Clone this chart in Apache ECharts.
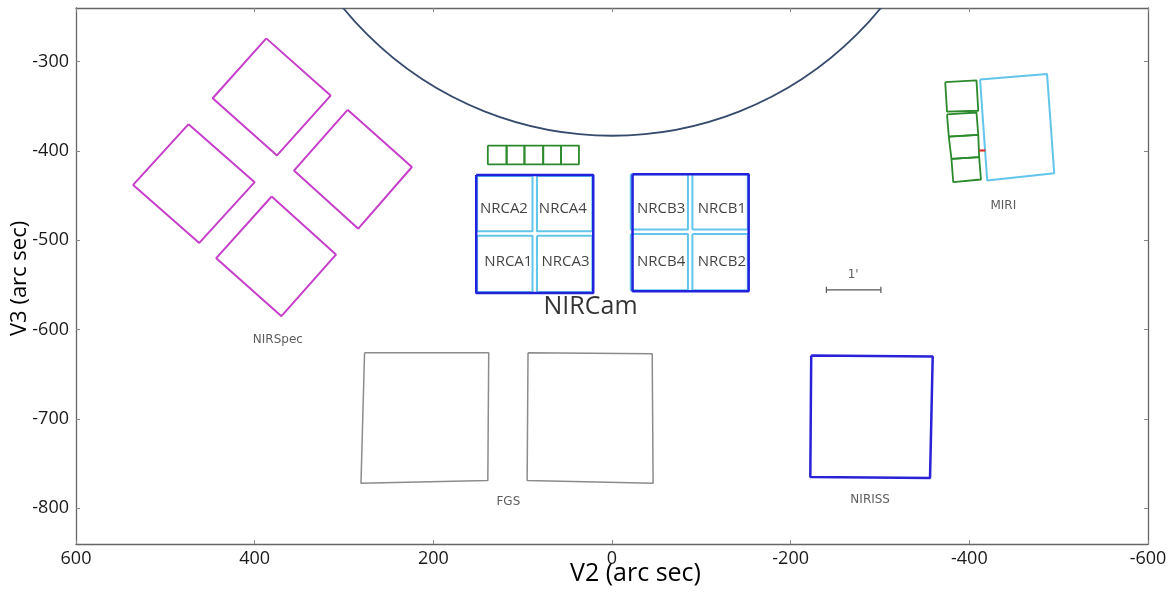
<!DOCTYPE html>
<html>
<head>
<meta charset="utf-8">
<script src="https://cdn.jsdelivr.net/npm/echarts@6/dist/echarts.min.js"></script>
<style>
html,body{margin:0;padding:0;background:#fff;}
#chart{width:1175px;height:594px;}
</style>
</head>
<body>
<div id="chart"></div>
<script>
// ---------- Data (V2, V3 in arc sec) ----------
const xRange = [-600, 600];
const yRange = [-840, -240];
const yTickValues = [-800, -700, -600, -500, -400, -300];

// OTE field circle: [V2 centre, V3 centre, radius]
const oteCircle = [[0, 5, 388]];

const nirspecQuads = [
  [[387, -274], [315, -338], [375, -405], [447, -341]],
  [[474, -370], [400, -435], [462, -503], [536, -438]],
  [[296, -354], [224, -418], [284, -487], [356, -422]],
  [[381, -451], [309, -516], [370, -585], [443, -520]]
];

const nircamDetectors = [
  [[151, -428], [89, -428], [89, -490], [151, -490]],   // NRCA2
  [[84, -428], [22, -428], [22, -490], [84, -490]],     // NRCA4
  [[151, -495], [89, -495], [89, -558], [151, -558]],   // NRCA1
  [[84, -495], [22, -495], [22, -558], [84, -558]],     // NRCA3
  [[-21, -426], [-85, -426], [-85, -488], [-21, -488]], // NRCB3
  [[-90, -426], [-152, -426], [-152, -488], [-90, -488]], // NRCB1
  [[-21, -493], [-85, -493], [-85, -556], [-21, -556]], // NRCB4
  [[-90, -493], [-152, -493], [-152, -556], [-90, -556]] // NRCB2
];

const nircamModules = [
  [[152, -427], [21, -427], [21, -559], [152, -559]],
  [[-23, -426], [-153, -426], [-153, -557], [-23, -557]]
];

const coronEdgesV2 = [139, 118, 98, 77, 57, 37];
const coronV3 = [-394, -415];

const miriCoronQuads = [
  [[-373, -323], [-408, -321], [-410, -355], [-375, -356]],
  [[-375, -359], [-408, -357], [-410, -382], [-377, -384]],
  [[-377, -384], [-410, -382], [-411, -407], [-380, -409]],
  [[-380, -409], [-411, -407], [-413, -432], [-382, -435]]
];
const miriImager = [[-412, -320], [-487, -314], [-495, -425], [-420, -433]];
const miriRedMark = [[-411, -399.5], [-418, -399.5]];

const fgsQuads = [
  [[277, -626], [138, -626], [139, -769], [281, -772]],
  [[94, -626], [-45, -627], [-46, -772], [95, -769]]
];

const nirissQuad = [[-223, -629], [-359, -630], [-356, -766], [-222, -765]];

const scaleBar = [[-240, -555.5], [-301, -555.5]];
const scaleBarEnds = [
  [[-240, -552], [-240, -559]],
  [[-301, -552], [-301, -559]]
];

const instrumentLabels = [
  ['NIRSpec', 374, -611],
  ['FGS', 116, -793],
  ['NIRISS', -289, -791],
  ['MIRI', -438, -462],
  ["1'", -270, -539]
];
const detectorLabels = [
  ['NRCA2', 121, -465],
  ['NRCA4', 55, -465],
  ['NRCA1', 116, -524],
  ['NRCA3', 52, -524],
  ['NRCB3', -55, -465],
  ['NRCB1', -123, -465],
  ['NRCB4', -55, -524],
  ['NRCB2', -123, -524]
];
const nircamLabel = [['NIRCam', 24, -575]];

// ---------- Build series ----------
function poly(pts, color, width, z, closed) {
  const d = closed === false ? pts.slice() : pts.concat([pts[0]]);
  return {
    type: 'line', data: d, symbol: 'none', silent: true, animation: false,
    lineStyle: { color: color, width: width }, z: z || 2, clip: false
  };
}
function labelSeries(items, font, size, color) {
  return {
    type: 'scatter', silent: true, animation: false, symbolSize: 1,
    itemStyle: { color: 'rgba(0,0,0,0)' }, z: 10,
    data: items.map(it => ({ name: it[0], value: [it[1], it[2]] })),
    label: { show: true, position: 'inside', formatter: '{b}',
      fontFamily: font, fontSize: size, color: color }
  };
}

const series = [];
series.push({
  type: 'custom', silent: true, animation: false, data: oteCircle, z: 1,
  renderItem: function (params, api) {
    const c = api.coord([api.value(0), api.value(1)]);
    const r = Math.abs(api.size([api.value(2), 0])[0]);
    const cs = params.coordSys;
    return {
      type: 'group',
      clipPath: { type: 'rect', shape: { x: cs.x, y: cs.y, width: cs.width, height: cs.height } },
      children: [{
        type: 'circle', shape: { cx: c[0], cy: c[1], r: r },
        style: { fill: 'none', stroke: '#364b6c', lineWidth: 1.8 }
      }]
    };
  }
});
nirspecQuads.forEach(q => series.push(poly(q, '#c53fcb', 2)));
nircamDetectors.forEach(q => series.push(poly(q, '#62c6ea', 2)));
nircamModules.forEach(q => series.push(poly(q, '#2222dc', 2.5, 3)));
for (let i = 0; i < coronEdgesV2.length - 1; i++) {
  const a = coronEdgesV2[i], b = coronEdgesV2[i + 1];
  series.push(poly([[a, coronV3[0]], [b, coronV3[0]], [b, coronV3[1]], [a, coronV3[1]]], '#2b8a2b', 1.8));
}
miriCoronQuads.forEach(q => series.push(poly(q, '#2b8a2b', 1.8)));
series.push(poly(miriImager, '#62c6ea', 2));
series.push(poly(miriRedMark, '#e0302a', 2.2, 4, false));
fgsQuads.forEach(q => series.push(poly(q, '#8c8c8c', 1.5)));
series.push(poly(nirissQuad, '#2a22d6', 2.5));
series.push(poly(scaleBar, '#555', 1.2, 2, false));
scaleBarEnds.forEach(s => series.push(poly(s, '#555', 1.2, 2, false)));
series.push(labelSeries(instrumentLabels, 'DejaVu Sans', 12, '#333'));
series.push(labelSeries(detectorLabels, 'Open Sans', 15, '#111'));
series.push(labelSeries(nircamLabel, 'Open Sans', 25, '#000'));

const axisLineStyle = { color: '#666', width: 1.3 };
const chart = echarts.init(document.getElementById('chart'), null, { renderer: 'canvas' });
chart.setOption({
  animation: false,
  backgroundColor: '#ffffff',
  grid: { left: 76, right: 27, top: 8, bottom: 50 },
  xAxis: [{
    type: 'value', min: xRange[0], max: xRange[1], interval: 200, inverse: true,
    position: 'bottom',
    axisLine: { show: true, onZero: false, lineStyle: axisLineStyle },
    axisTick: { show: true, inside: true, length: 4, lineStyle: { color: '#888' } },
    axisLabel: { fontFamily: 'Open Sans', fontSize: 18, color: '#1a1a1a', margin: 6 },
    splitLine: { show: false }
  }, {
    type: 'value', min: xRange[0], max: xRange[1], interval: 200, inverse: true,
    position: 'top',
    axisLine: { show: true, onZero: false, lineStyle: axisLineStyle },
    axisTick: { show: true, inside: true, length: 4, lineStyle: { color: '#888' } },
    axisLabel: { show: false },
    splitLine: { show: false }
  }],
  yAxis: [{
    type: 'value', min: yRange[0], max: yRange[1], position: 'left',
    axisLine: { show: true, onZero: false, lineStyle: axisLineStyle },
    axisTick: { show: true, inside: true, length: 4, customValues: yTickValues, lineStyle: { color: '#888' } },
    axisLabel: { fontFamily: 'Open Sans', fontSize: 18, color: '#1a1a1a', margin: 7, customValues: yTickValues },
    splitLine: { show: false }
  }, {
    type: 'value', min: yRange[0], max: yRange[1], position: 'right',
    axisLine: { show: true, onZero: false, lineStyle: axisLineStyle },
    axisTick: { show: true, inside: true, length: 4, customValues: yTickValues, lineStyle: { color: '#888' } },
    axisLabel: { show: false, customValues: yTickValues },
    splitLine: { show: false }
  }],
  graphic: [{
    type: 'text', left: 570, top: 561,
    style: { text: 'V2 (arc sec)', font: '25px "Open Sans"', fill: '#000' }
  }, {
    type: 'text', x: 9, y: 336, rotation: Math.PI / 2,
    style: { text: 'V3 (arc sec)', font: '22px "Open Sans"', fill: '#000' }
  }],
  series: series
});
</script>
</body>
</html>
